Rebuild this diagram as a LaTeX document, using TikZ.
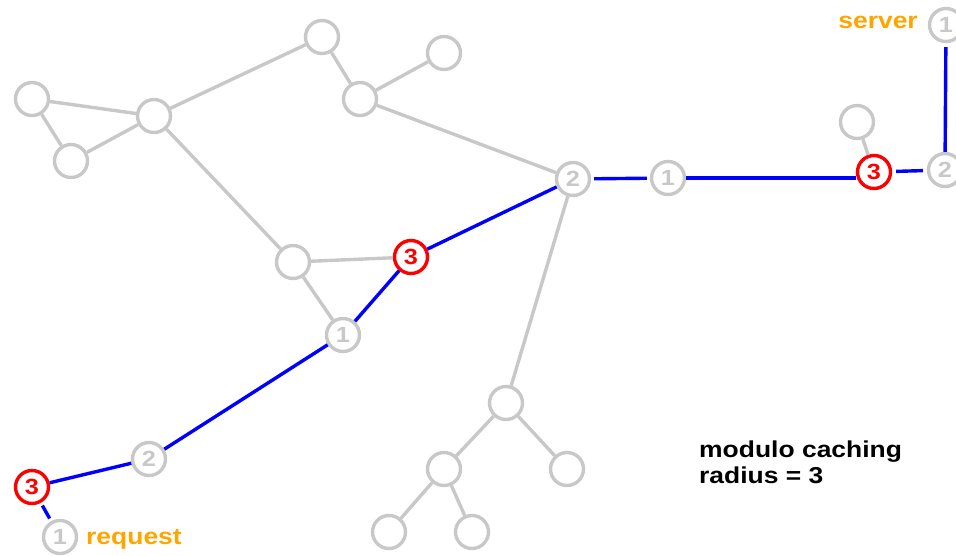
\documentclass[tikz,border=0pt]{standalone}
\usepackage{fontspec}
\setmainfont{Liberation Sans}
\newfontfamily\wide[FakeStretch=1.15]{Liberation Sans}
\begin{document}
\begin{tikzpicture}[x=1pt,y=-1pt,
  every node/.style={inner sep=0pt},
  vtx/.style={circle,draw=netgray,line width=3.4pt,fill=white,minimum size=33pt,
    text=netgray,font=\wide\bfseries\fontsize{22}{22}\selectfont},
  hit/.style={vtx,draw=red,text=red},
  edge/.style={draw=netgray,line width=3.4pt},
  route/.style={draw=blue,line width=3.4pt},
  tag/.style={text=labelorange,font=\wide\bfseries\fontsize{23}{23}\selectfont},
]
\definecolor{netgray}{RGB}{200,200,200}
\definecolor{labelorange}{RGB}{255,165,0}
\useasboundingbox (0,0) rectangle (956,555);

% plain nodes of the network
\node[vtx] (a) at (32,99) {};
\node[vtx] (b) at (71,161) {};
\node[vtx] (c) at (154,116) {};
\node[vtx] (d) at (322,37) {};
\node[vtx] (e) at (444,53) {};
\node[vtx] (f) at (360,99) {};
\node[vtx] (m) at (293,262) {};
\node[vtx] (j) at (857,122) {};
\node[vtx] (s) at (506,403) {};
\node[vtx] (t) at (567,469) {};
\node[vtx] (u) at (444,469) {};
\node[vtx] (v) at (389,532) {};
\node[vtx] (w) at (472,532) {};

% nodes on the route, numbered by hop
\node[vtx] (g) at (573,179) {2};
\node[vtx] (h) at (668,178) {1};
\node[hit] (i) at (874,172) {3};
\node[vtx] (k) at (945,170) {2};
\node[vtx] (l) at (946,25) {1};
\node[hit] (n) at (411,257) {3};
\node[vtx] (o) at (343,335) {1};
\node[vtx] (p) at (149,459) {2};
\node[hit] (q) at (32,487) {3};
\node[vtx] (r) at (60,537) {1};

% grey links
\draw[edge] (a) -- (c);
\draw[edge] (a) -- (b);
\draw[edge] (b) -- (c);
\draw[edge] (c) -- (d);
\draw[edge] (d) -- (f);
\draw[edge] (f) -- (e);
\draw[edge] (f) -- (g);
\draw[edge] (c) -- (m);
\draw[edge] (m) -- (n);
\draw[edge] (m) -- (o);
\draw[edge] (g) -- (s);
\draw[edge] (s) -- (t);
\draw[edge] (s) -- (u);
\draw[edge] (u) -- (v);
\draw[edge] (u) -- (w);
\draw[edge] (j) -- (i);

% request path
\draw[route,shorten <=3pt,shorten >=3pt] (r) -- (q);
\draw[route] (q) -- (p);
\draw[route] (p) -- (o);
\draw[route] (o) -- (n);
\draw[route] (n) -- (g);
\draw[route,shorten <=3pt,shorten >=3pt] (g) -- (h);
\draw[route] (h) -- (h -| i.west);
\draw[route,shorten <=4pt,shorten >=4pt] (i) -- (k);
\draw[route,shorten <=4pt] (l) -- (k);

% labels
\node[tag,anchor=east] (srv) at (918,22) {server};
\node[tag,anchor=west] (req) at (86,539) {request};
\node[anchor=north west,align=left,font=\wide\bfseries\fontsize{23}{25.5}\selectfont]
  (note) at (699,441) {modulo caching\\radius = 3};
\end{tikzpicture}
\end{document}
